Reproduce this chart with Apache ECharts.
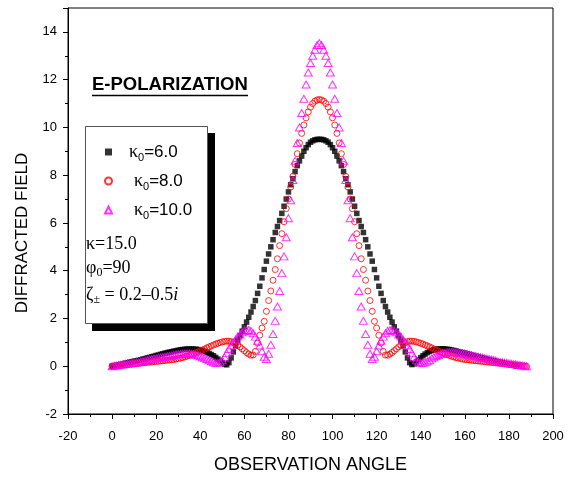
<!DOCTYPE html>
<html><head><meta charset="utf-8">
<script src="https://cdn.jsdelivr.net/npm/echarts@6/dist/echarts.min.js"></script>
<style>html,body{margin:0;padding:0;background:#fff}#c{width:580px;height:477px}</style>
</head><body><div id="c"></div>
<script>
// observation angles of the sampled points
const angles = [
0,1,2,3,4,5,6,7,8,9,10,11,12,13,14,15,16,17,18,19,
20,21,22,23,24,25,26,27,28,29,30,31,32,33,34,35,36,37,38,39,
40,41,42,43,44,45,46,47,48,49,50,51,52,53,54,55,56,57,58,59,
60,61,62,63,64,65,66,67,68,69,70,71,72,73,74,75,76,77,78,79,
80,81,82,83,84,85,86,87,88,89,90,91,92,93,94,95,96,97,98,99,
100,101,102,103,104,105,106,107,108,109,110,111,112,113,114,115,116,117,118,119,
120,121,122,123,124,125,126,127,128,129,130,131,132,133,134,135,136,137,138,139,
140,141,142,143,144,145,146,147,148,149,150,151,152,153,154,155,156,157,158,159,
160,161,162,163,164,165,166,167,168,169,170,171,172,173,174,175,176,177,178,179,
180,181,182,183,184,185,186,187,188];

// kappa0 = 6.0 (black squares)
const kappa6 = [
0,0.02,0.04,0.06,0.08,0.10,0.13,0.15,0.17,0.19,
0.21,0.23,0.25,0.27,0.30,0.32,0.35,0.37,0.40,0.42,
0.45,0.47,0.50,0.52,0.55,0.57,0.59,0.61,0.63,0.65,
0.67,0.69,0.70,0.71,0.72,0.72,0.72,0.72,0.71,0.70,
0.68,0.65,0.62,0.58,0.54,0.49,0.44,0.37,0.30,0.22,
0.15,0.08,0.06,0.15,0.35,0.60,0.85,1.08,1.28,1.47,
1.65,1.85,2.05,2.27,2.50,2.75,3.05,3.35,3.70,4.05,
4.40,4.70,5.00,5.30,5.60,5.85,6.10,6.40,6.70,7.00,
7.30,7.60,7.85,8.15,8.40,8.60,8.80,9.00,9.15,9.28,
9.38,9.44,9.48,9.50,9.50,
9.50,9.48,9.44,9.38,9.28,9.15,9.00,8.80,8.60,8.40,
8.15,7.85,7.60,7.30,7.00,6.70,6.40,6.10,5.85,5.60,
5.30,5.00,4.70,4.40,4.05,3.70,3.35,3.05,2.75,2.50,
2.27,2.05,1.85,1.65,1.47,1.28,1.08,0.85,0.60,0.35,
0.15,0.07,0.10,0.18,0.27,0.36,0.44,0.51,0.57,0.62,
0.66,0.69,0.71,0.72,0.73,0.73,0.72,0.71,0.70,0.68,
0.66,0.64,0.61,0.59,0.57,0.55,0.52,0.50,0.47,0.45,
0.42,0.40,0.37,0.35,0.32,0.30,0.27,0.25,0.23,0.21,
0.19,0.17,0.15,0.13,0.10,0.08,0.06,0.04,0.02,0];

// kappa0 = 8.0 (red circles)
const kappa8 = [
0,0.01,0.02,0.03,0.04,0.05,0.06,0.07,0.08,0.09,
0.10,0.11,0.12,0.13,0.14,0.15,0.16,0.17,0.18,0.19,
0.20,0.21,0.22,0.23,0.24,0.25,0.26,0.27,0.28,0.30,
0.32,0.34,0.36,0.39,0.42,0.45,0.48,0.52,0.56,0.60,
0.64,0.68,0.72,0.77,0.81,0.85,0.89,0.93,0.96,0.99,
1.02,1.04,1.05,1.05,1.03,0.99,0.94,0.88,0.81,0.73,
0.65,0.57,0.51,0.46,0.47,0.62,0.97,1.30,1.60,1.88,
2.30,2.75,3.15,3.60,4.05,4.50,5.05,5.55,6.05,6.60,
7.00,7.50,7.95,8.45,8.90,9.35,9.75,10.10,10.40,10.65,
10.85,11.00,11.10,11.15,11.17,
11.15,11.10,11.00,10.85,10.65,10.40,10.10,9.75,9.35,8.90,
8.45,7.95,7.50,7.00,6.60,6.05,5.55,5.05,4.50,4.05,
3.60,3.15,2.75,2.30,1.88,1.60,1.30,0.97,0.62,0.47,
0.46,0.51,0.57,0.65,0.73,0.81,0.88,0.94,0.99,1.03,
1.05,1.05,1.04,1.02,0.99,0.96,0.93,0.89,0.85,0.81,
0.77,0.72,0.68,0.64,0.60,0.56,0.52,0.48,0.45,0.42,
0.39,0.36,0.34,0.32,0.30,0.28,0.27,0.26,0.25,0.24,
0.23,0.22,0.21,0.20,0.19,0.18,0.17,0.16,0.15,0.14,
0.13,0.12,0.11,0.10,0.09,0.08,0.07,0.06,0.05,0.04,
0.03,0.02,0.01,0];

// kappa0 = 10.0 (magenta triangles)
const kappa10 = [
0,0.02,0.03,0.05,0.06,0.08,0.09,0.11,0.12,0.14,
0.15,0.17,0.18,0.20,0.22,0.24,0.26,0.28,0.30,0.32,
0.33,0.35,0.37,0.39,0.40,0.42,0.43,0.45,0.47,0.49,
0.50,0.51,0.52,0.53,0.53,0.53,0.52,0.50,0.48,0.45,
0.42,0.38,0.34,0.30,0.25,0.21,0.17,0.14,0.14,0.18,
0.25,0.38,0.55,0.72,0.88,1.00,1.12,1.24,1.33,1.42,
1.48,1.51,1.52,1.48,1.38,1.24,1.07,0.87,0.63,0.40,
0.30,0.52,0.90,1.35,1.90,2.50,3.15,3.90,4.60,5.40,
6.20,6.95,7.80,8.60,9.35,10.00,10.60,11.20,11.80,12.30,
12.70,13.00,13.25,13.45,13.53,
13.45,13.25,13.00,12.70,12.30,11.80,11.20,10.60,10.00,9.35,
8.60,7.80,6.95,6.20,5.40,4.60,3.90,3.15,2.50,1.90,
1.35,0.90,0.52,0.30,0.40,0.63,0.87,1.07,1.24,1.38,
1.48,1.52,1.51,1.48,1.42,1.33,1.24,1.12,1.00,0.88,
0.72,0.55,0.38,0.25,0.18,0.14,0.14,0.17,0.21,0.25,
0.33,0.38,0.43,0.47,0.51,0.54,0.56,0.58,0.59,0.59,
0.59,0.58,0.57,0.55,0.54,0.52,0.50,0.48,0.46,0.44,
0.42,0.40,0.38,0.36,0.34,0.32,0.30,0.28,0.26,0.24,
0.20,0.18,0.17,0.15,0.14,0.12,0.11,0.09,0.08,0.06,
0.05,0.03,0.02,0];

const seriesNames = ['κ0=6.0', 'κ0=8.0', 'κ0=10.0'];
const xTickValues = [-20, 0, 20, 40, 60, 80, 100, 120, 140, 160, 180, 200];
const yTickValues = [-2, 0, 2, 4, 6, 8, 10, 12, 14];
const titleText = 'E-POLARIZATION';
const xName = 'OBSERVATION ANGLE';
const yName = 'DIFFRACTED FIELD';

const chart = echarts.init(document.getElementById('c'));
const SANS = 'Liberation Sans, Arial, Helvetica, sans-serif';
const SERIF = 'Liberation Serif, Times New Roman, serif';

function pts(vals) { return angles.map((a, i) => [a, vals[i]]); }

const option = {
  animation: false,
  backgroundColor: '#fff',
  grid: { left: 68, right: 27, top: 8, bottom: 63, containLabel: false, outerBoundsMode: 'none',
    show: true, borderColor: '#000', borderWidth: 1, backgroundColor: 'transparent' },
  xAxis: {
    type: 'value', min: xTickValues[0], max: xTickValues[xTickValues.length - 1], interval: 20,
    axisLine: { onZero: false, lineStyle: { color: '#000', width: 1 } },
    axisTick: { length: 5, lineStyle: { color: '#000' } },
    minorTick: { show: true, splitNumber: 2, length: 3, lineStyle: { color: '#000' } },
    splitLine: { show: false },
    axisLabel: { color: '#000', fontSize: 13, fontFamily: SANS, margin: 16, showMinLabel: true, showMaxLabel: true },
    name: xName, nameLocation: 'middle', nameGap: 42,
    nameTextStyle: { color: '#000', fontSize: 18, fontFamily: SANS }
  },
  yAxis: {
    type: 'value', min: yTickValues[0], max: 15, interval: 2,
    axisLine: { onZero: false, lineStyle: { color: '#000', width: 1 } },
    axisTick: { length: 5, lineStyle: { color: '#000' } },
    minorTick: { show: true, splitNumber: 2, length: 3, lineStyle: { color: '#000' } },
    splitLine: { show: false },
    axisLabel: { color: '#000', fontSize: 13, fontFamily: SANS, margin: 11,
      formatter: v => (yTickValues.indexOf(v) >= 0 ? String(v) : '') }
  },
  legend: {
    orient: 'vertical', left: 104, top: 143, padding: 0, itemGap: 9,
    itemWidth: 7, itemHeight: 7, selectedMode: false,
    data: seriesNames,
    formatter: name => {
      const rest = name.slice(2);
      const pad = name === seriesNames[0] ? '{g|}' : '{h|}';
      return pad + '{k|κ}{s|0}{n|' + rest + '}';
    },
    textStyle: {
      color: '#000',
      rich: {
        g: { width: 12, lineHeight: 20 },
        h: { width: 17, lineHeight: 20 },
        k: { fontSize: 18, fontFamily: SERIF, lineHeight: 20, verticalAlign: 'middle', color: '#000' },
        s: { fontSize: 11, fontFamily: SANS, lineHeight: 22, verticalAlign: 'bottom', color: '#000' },
        n: { fontSize: 17, fontFamily: SANS, lineHeight: 20, verticalAlign: 'middle', color: '#000' }
      }
    }
  },
  graphic: [
    { type: 'rect', shape: { x: 92, y: 133, width: 123, height: 198 }, style: { fill: '#000' }, z: 0 },
    { type: 'rect', shape: { x: 85.5, y: 126.5, width: 122, height: 197 }, style: { fill: '#fff', stroke: '#555', lineWidth: 1 }, z: 1 },
    { type: 'text', x: 86, y: 244, z: 2, style: {
        text: '{a|κ=15.0}', verticalAlign: 'middle', align: 'left',
        rich: { a: { fontSize: 18, fontFamily: SERIF, fill: '#000' } } } },
    { type: 'text', x: 86, y: 268, z: 2, style: {
        text: '{a|φ}{s|0}{a|=90}', verticalAlign: 'middle', align: 'left',
        rich: { a: { fontSize: 18, fontFamily: SERIF, fill: '#000', lineHeight: 20, verticalAlign: 'middle' },
                s: { fontSize: 12, fontFamily: SERIF, fill: '#000', lineHeight: 22, verticalAlign: 'bottom' } } } },
    { type: 'text', x: 86, y: 295, z: 2, style: {
        text: '{a|ζ}{s|±}{a| = 0.2–0.5}{i|i}', verticalAlign: 'middle', align: 'left',
        rich: { a: { fontSize: 18, fontFamily: SERIF, fill: '#000', lineHeight: 20, verticalAlign: 'middle' },
                s: { fontSize: 12, fontFamily: SERIF, fill: '#000', lineHeight: 22, verticalAlign: 'bottom' },
                i: { fontSize: 18, fontFamily: SERIF, fontStyle: 'italic', fill: '#000', lineHeight: 20, verticalAlign: 'middle' } } } },
    { type: 'text', x: 92, y: 85, z: 2, style: {
        text: titleText, fontSize: 18.5, fontWeight: 'bold', fontFamily: SANS, fill: '#000',
        verticalAlign: 'middle', align: 'left' } },
    { type: 'line', shape: { x1: 92, y1: 95.5, x2: 248, y2: 95.5 }, style: { stroke: '#000', lineWidth: 1.5 }, z: 2 },
    { type: 'text', x: 22, y: 233, rotation: Math.PI / 2, z: 2, style: {
        text: yName, fontSize: 17, fontFamily: SANS, fill: '#000', align: 'center', verticalAlign: 'middle' } }
  ],
  series: [
    { name: seriesNames[0], type: 'scatter', data: pts(kappa6), symbol: 'rect', symbolSize: 5.5,
      itemStyle: { color: '#000' }, z: 3 },
    { name: seriesNames[1], type: 'scatter', data: pts(kappa8), symbol: 'circle', symbolSize: 6,
      itemStyle: { color: 'rgba(255,255,255,0)', borderColor: '#ff0000', borderWidth: 1 }, z: 4 },
    { name: seriesNames[2], type: 'scatter', data: pts(kappa10), symbol: 'triangle', symbolSize: [8, 7],
      itemStyle: { color: 'rgba(255,255,255,0)', borderColor: '#ff00ff', borderWidth: 1 }, z: 5 }
  ]
};
chart.setOption(option);
</script>
</body></html>
